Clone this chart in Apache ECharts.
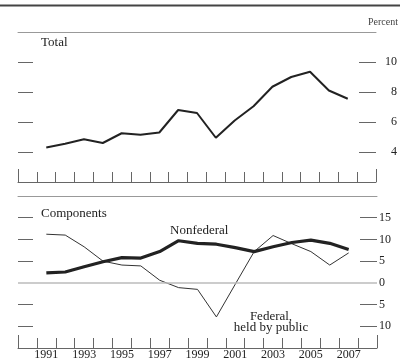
<!DOCTYPE html>
<html>
<head>
<meta charset="utf-8">
<script src="https://cdn.jsdelivr.net/npm/echarts@6/dist/echarts.min.js"></script>
<style>
  html, body { margin: 0; padding: 0; background: #fff; }
  #chart { width: 400px; height: 364px; }
</style>
</head>
<body>
<div id="chart"></div>
<script>
// Annual growth of debt, percent
const years = [1991, 1992, 1993, 1994, 1995, 1996, 1997, 1998, 1999, 2000, 2001, 2002, 2003, 2004, 2005, 2006, 2007];
const total = [4.3, 4.55, 4.85, 4.6, 5.25, 5.15, 5.3, 6.8, 6.6, 4.95, 6.1, 7.05, 8.35, 9.0, 9.35, 8.1, 7.55];
const nonfederal = [2.3, 2.5, 3.7, 4.85, 5.8, 5.7, 7.2, 9.7, 9.1, 8.9, 8.1, 7.2, 8.3, 9.3, 9.85, 9.1, 7.7];
const federal = [11.2, 11.0, 8.3, 5.0, 4.1, 3.9, 0.6, -1.1, -1.5, -7.85, -0.3, 7.2, 10.9, 9.0, 7.2, 4.1, 6.9];

const totalTicks = [4, 6, 8, 10];
const compTicks = [-10, -5, 5, 10, 15];
const compLabels = [-10, -5, 0, 5, 10, 15];

// One empty slot on each side of the year range
const axisCats = [String(years[0] - 1)].concat(years.map(String), [String(years[years.length - 1] + 1)]);
const pad = arr => [null].concat(arr, [null]);

const FONT = 'Liberation Serif';
const TXT = '#222';
const TICK = '#666';

function bottomAxis(gridIndex, showLabels) {
  return {
    type: 'category', gridIndex, position: 'bottom', data: axisCats, boundaryGap: true,
    axisLine: { show: true, onZero: false, lineStyle: { color: TICK, width: 1 } },
    axisTick: { show: true, inside: true, length: 10, interval: 0, lineStyle: { color: TICK } },
    axisLabel: {
      show: showLabels, fontFamily: FONT, fontSize: 12, color: TXT, margin: 1,
      interval: (i, v) => { const y = +v; return y >= years[0] && y <= years[years.length - 1] && y % 2 === 1; }
    },
    splitLine: { show: false }
  };
}
function topAxis(gridIndex) {
  return {
    type: 'category', gridIndex, position: 'top', data: axisCats,
    axisLine: { show: true, onZero: false, lineStyle: { color: '#999', width: 1 } },
    axisTick: { show: false }, axisLabel: { show: false }, splitLine: { show: false }
  };
}
// Taller ticks at both ends of the year axis
function edgeAxis(gridIndex) {
  return {
    type: 'category', gridIndex, position: 'bottom', data: [''], boundaryGap: true,
    axisLine: { show: false, onZero: false },
    axisTick: { show: true, inside: true, length: 13, interval: 0, lineStyle: { color: TICK } },
    axisLabel: { show: false }, splitLine: { show: false }
  };
}
function sideAxis(gridIndex, pos, min, max, ticks, tickLen, label) {
  return {
    type: 'value', gridIndex, position: pos, min, max,
    axisLine: { show: false, onZero: false },
    axisTick: { show: true, inside: true, length: tickLen, customValues: ticks, lineStyle: { color: TICK, width: 1 } },
    axisLabel: label ? Object.assign({ fontFamily: FONT, fontSize: 12, color: TXT }, label) : { show: false },
    splitLine: { show: false }
  };
}

const chart = echarts.init(document.getElementById('chart'), null, { renderer: 'canvas' });
chart.setOption({
  animation: false,
  backgroundColor: '#fff',
  grid: [
    { left: 18, right: 23, top: 32, height: 150 },
    { left: 18, right: 23, top: 196, height: 152 }
  ],
  xAxis: [
    bottomAxis(0, false), topAxis(0), edgeAxis(0),
    bottomAxis(1, true), topAxis(1), edgeAxis(1)
  ],
  yAxis: [
    sideAxis(0, 'left', 2, 12, totalTicks, 15, null),
    sideAxis(0, 'right', 2, 12, totalTicks, 17, { customValues: totalTicks, align: 'right', margin: 21 }),
    sideAxis(1, 'left', -15, 20, compTicks, 15, null),
    sideAxis(1, 'right', -15, 20, compTicks, 17, {
      customValues: compLabels, align: 'left', margin: 2, formatter: v => String(Math.abs(v))
    })
  ],
  series: [
    {
      name: 'Zero', type: 'line', xAxisIndex: 3, yAxisIndex: 2, data: [], z: 1, silent: true,
      markLine: {
        silent: true, symbol: 'none', label: { show: false },
        lineStyle: { color: '#bbb', width: 1.5, type: 'solid' },
        data: [{ yAxis: 0 }]
      }
    },
    {
      name: 'Total', type: 'line', xAxisIndex: 0, yAxisIndex: 0, data: pad(total),
      symbol: 'none', lineStyle: { color: '#222', width: 2 }, z: 3
    },
    {
      name: 'Federal, held by public', type: 'line', xAxisIndex: 3, yAxisIndex: 2, data: pad(federal),
      symbol: 'none', lineStyle: { color: '#333', width: 1 }, z: 3
    },
    {
      name: 'Nonfederal', type: 'line', xAxisIndex: 3, yAxisIndex: 2, data: pad(nonfederal),
      symbol: 'none', lineStyle: { color: '#222', width: 3.2 }, z: 4
    }
  ],
  graphic: [
    { type: 'line', shape: { x1: 0, y1: 5.5, x2: 400, y2: 5.5 }, style: { stroke: '#444', lineWidth: 2 } },
    { type: 'text', x: 398, y: 22.5, style: { text: 'Percent', fontFamily: FONT, fontSize: 10, fill: '#444', align: 'right', verticalAlign: 'middle' } },
    { type: 'text', x: 41, y: 43, style: { text: 'Total', fontFamily: FONT, fontSize: 13, fill: TXT, verticalAlign: 'middle' } },
    { type: 'text', x: 41, y: 214, style: { text: 'Components', fontFamily: FONT, fontSize: 13, fill: TXT, verticalAlign: 'middle' } },
    { type: 'text', x: 170, y: 231, style: { text: 'Nonfederal', fontFamily: FONT, fontSize: 13, fill: TXT, verticalAlign: 'middle' } },
    { type: 'text', x: 271, y: 322, style: { text: 'Federal,\nheld by public', fontFamily: FONT, fontSize: 13, lineHeight: 11, fill: TXT, align: 'center', verticalAlign: 'middle' } }
  ]
});
</script>
</body>
</html>
